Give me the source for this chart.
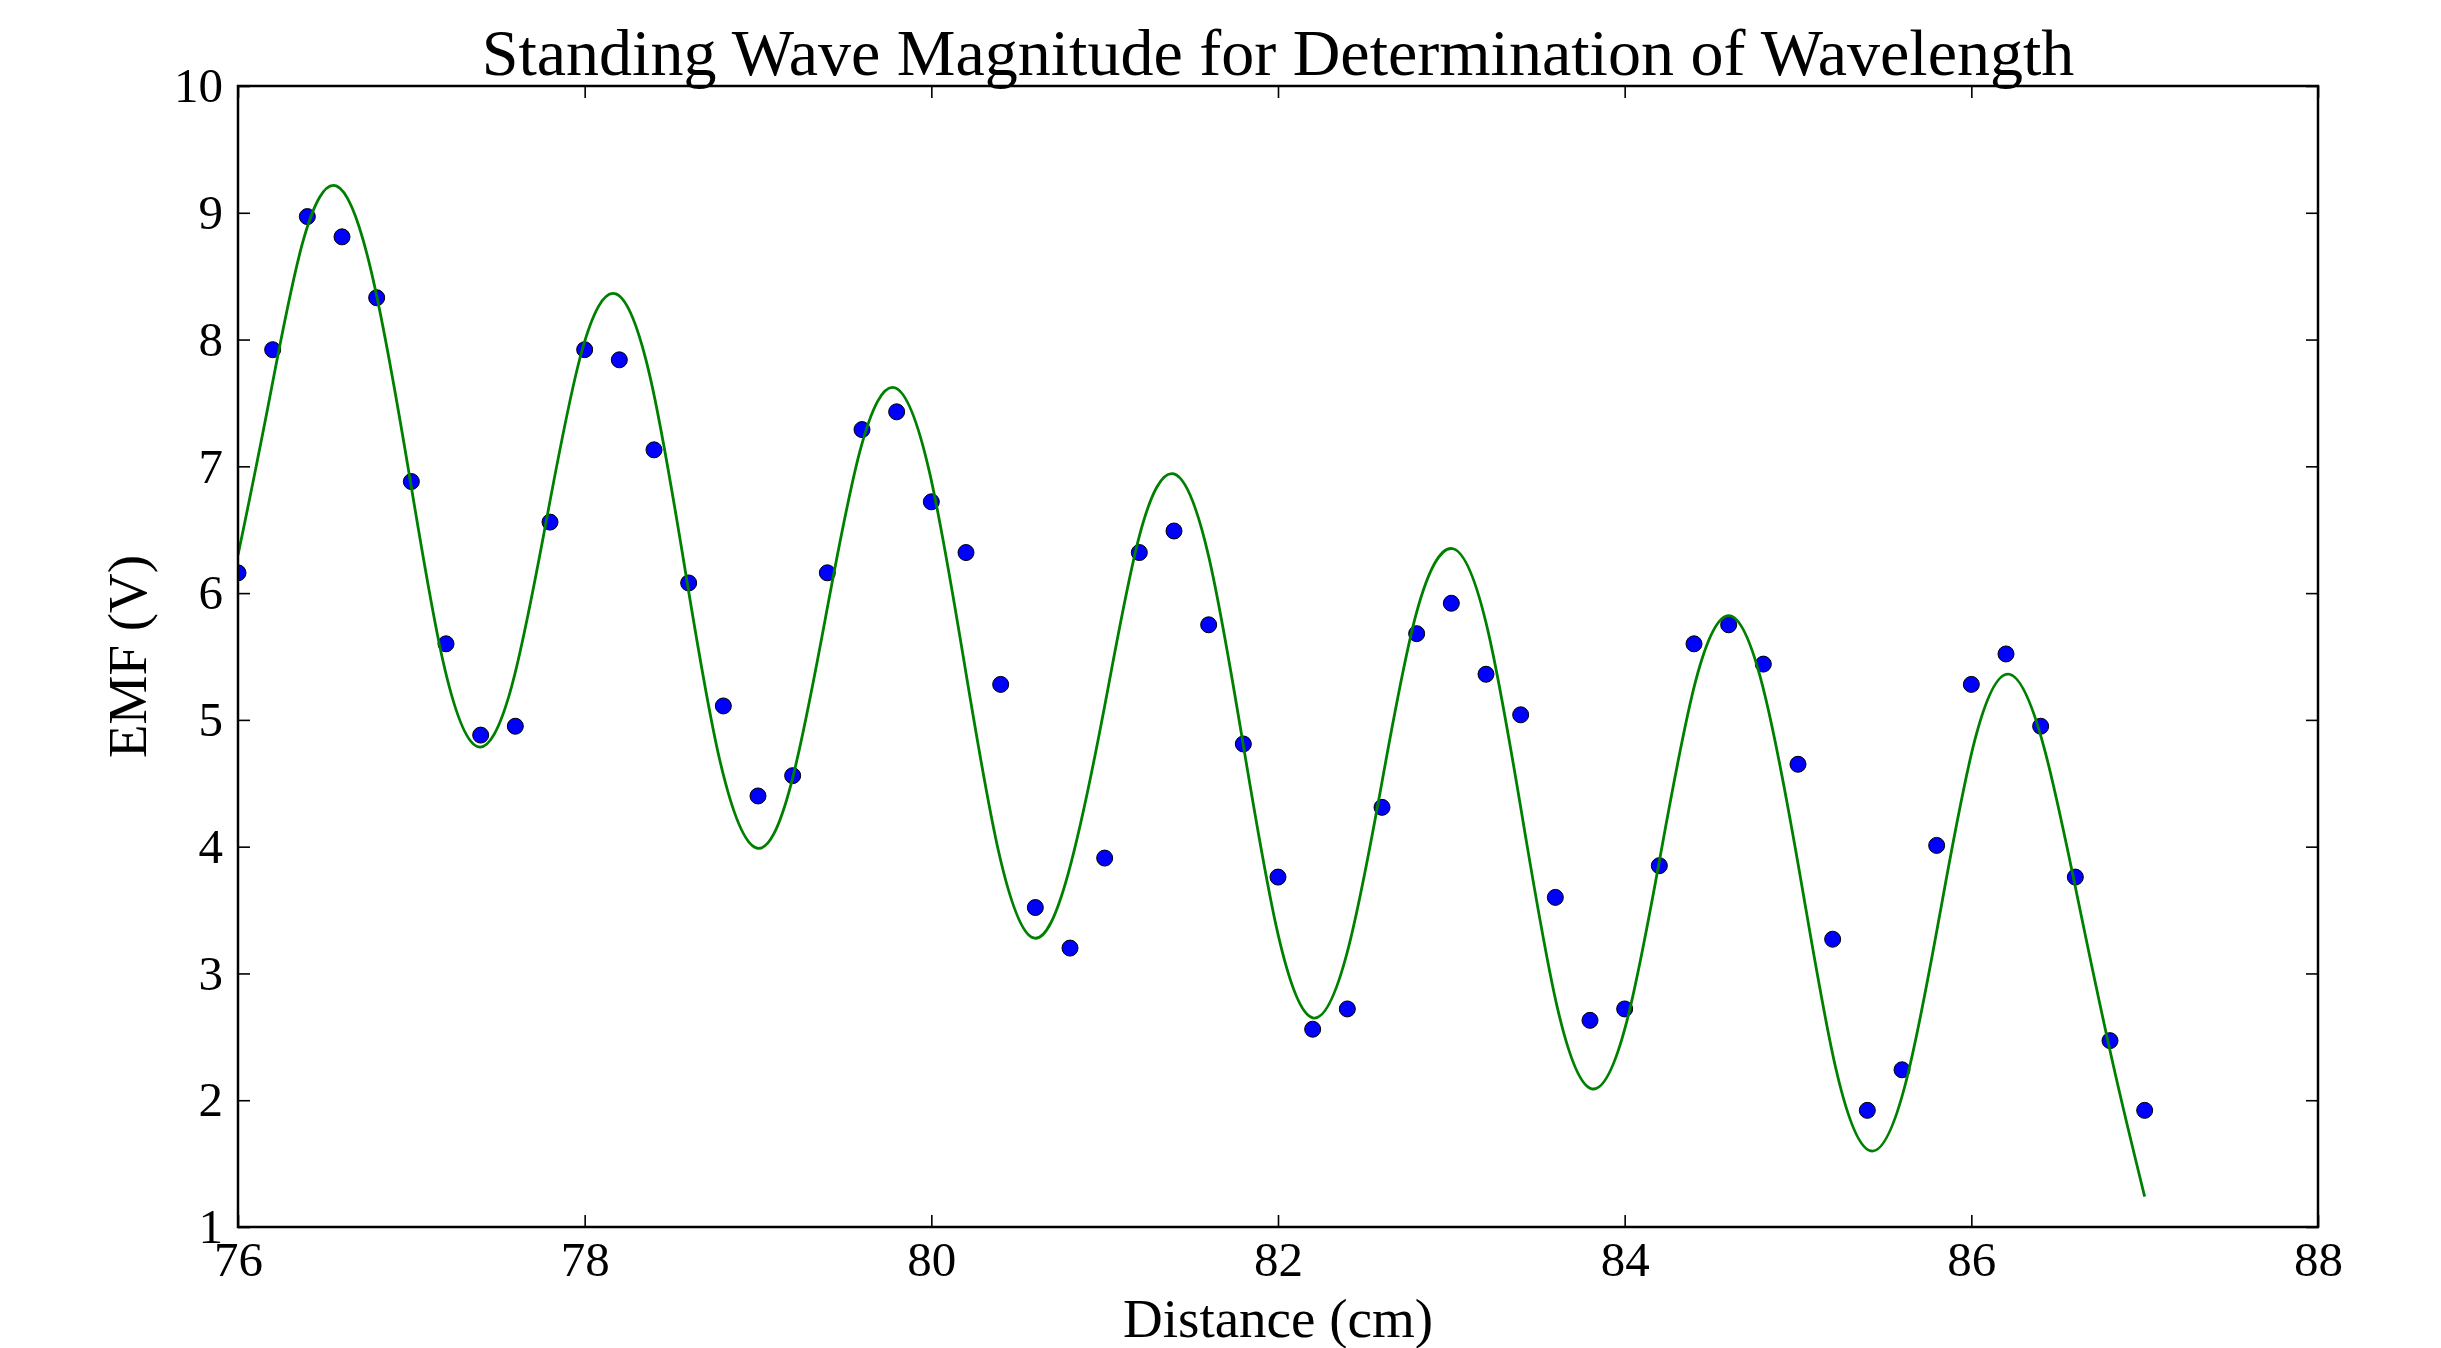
<!DOCTYPE html>
<html>
<head>
<meta charset="utf-8">
<script src="https://cdn.jsdelivr.net/npm/d3@7"></script>
<style>
  html, body { margin: 0; padding: 0; background: #fff; }
  svg { display: block; }
</style>
</head>
<body>
<svg width="2441" height="1348"></svg>
<script>
const { select, scaleLinear, axisBottom, axisLeft, axisTop, axisRight, line, curveNatural } = d3;

// measured positions (cm)
const distance = [
    76.0, 76.2, 76.4, 76.6, 76.8, 77.0, 77.2, 77.4, 77.6, 77.8,
    78.0, 78.2, 78.4, 78.6, 78.8, 79.0, 79.2, 79.4, 79.6, 79.8,
    80.0, 80.2, 80.4, 80.6, 80.8, 81.0, 81.2, 81.4, 81.6, 81.8,
    82.0, 82.2, 82.4, 82.6, 82.8, 83.0, 83.2, 83.4, 83.6, 83.8,
    84.0, 84.2, 84.4, 84.6, 84.8, 85.0, 85.2, 85.4, 85.6, 85.8,
    86.0, 86.2, 86.4, 86.6, 86.8, 87.0
];
// measured EMF (V)
const emf = [
    6.16, 7.92, 8.97, 8.81, 8.33, 6.88, 5.60, 4.88, 4.95, 6.56,
    7.92, 7.84, 7.13, 6.08, 5.11, 4.40, 4.56, 6.16, 7.29, 7.43,
    6.72, 6.32, 5.28, 3.52, 3.20, 3.91, 6.32, 6.49, 5.75, 4.81,
    3.76, 2.56, 2.72, 4.31, 5.68, 5.92, 5.36, 5.04, 3.60, 2.63,
    2.72, 3.85, 5.60, 5.75, 5.44, 4.65, 3.27, 1.92, 2.24, 4.01,
    5.28, 5.52, 4.95, 3.76, 2.47, 1.92
];

// fitted curve
const fitX = [
    76.00, 76.17, 76.37, 76.57, 76.77, 76.98, 77.18, 77.38, 77.58, 77.78,
    77.98, 78.18, 78.38, 78.58, 78.78, 78.99, 79.19, 79.39, 79.59, 79.79,
    79.99, 80.19, 80.39, 80.59, 80.79, 81.00, 81.20, 81.40, 81.60, 81.80,
    82.00, 82.20, 82.40, 82.60, 82.80, 83.01, 83.21, 83.41, 83.61, 83.81,
    84.01, 84.21, 84.41, 84.61, 84.81, 85.02, 85.22, 85.42, 85.62, 85.82,
    86.02, 86.22, 86.42, 86.62, 86.82, 87.00
];
const fitY = [
    6.30, 7.45, 8.75, 9.21, 8.53, 7.00, 5.48, 4.79, 5.27, 6.58,
    7.89, 8.36, 7.69, 6.18, 4.68, 3.99, 4.49, 5.81, 7.13, 7.62,
    6.95, 5.45, 3.95, 3.28, 3.79, 5.11, 6.45, 6.94, 6.29, 4.80,
    3.31, 2.65, 3.17, 4.51, 5.85, 6.35, 5.71, 4.23, 2.74, 2.09,
    2.61, 3.96, 5.31, 5.82, 5.19, 3.71, 2.24, 1.60, 2.13, 3.48,
    4.84, 5.36, 4.78, 3.55, 2.27, 1.24
];

const xTicks = [76, 78, 80, 82, 84, 86, 88];
const yTicks = [1, 2, 3, 4, 5, 6, 7, 8, 9, 10];

const titleText = 'Standing Wave Magnitude for Determination of Wavelength';
const xLabel = 'Distance (cm)';
const yLabel = 'EMF (V)';

const svg = select('svg');
const width = +svg.attr('width');
const height = +svg.attr('height');

const plot = { left: 238, right: 2318, top: 86, bottom: 1227 };
const serif = '"Liberation Serif", "Times New Roman", serif';

const xScale = scaleLinear().domain([76, 88]).range([plot.left, plot.right]);
const yScale = scaleLinear().domain([1, 10]).range([plot.bottom, plot.top]);

svg.append('rect')
    .attr('width', width)
    .attr('height', height)
    .attr('fill', '#fff');

svg.append('defs')
    .append('clipPath')
    .attr('id', 'plot-clip')
    .append('rect')
    .attr('x', plot.left)
    .attr('y', plot.top)
    .attr('width', plot.right - plot.left)
    .attr('height', plot.bottom - plot.top);

// inward ticks on all four sides
const styleAxis = (g) => {
    g.select('.domain').remove();
    g.attr('font-family', serif).attr('font-size', 49);
    g.selectAll('.tick line').attr('stroke', '#000').attr('stroke-width', 1.6);
    g.selectAll('.tick text').attr('fill', '#000');
};

svg.append('g')
    .attr('transform', `translate(0,${plot.bottom})`)
    .call(axisBottom(xScale).tickValues(xTicks).tickSizeInner(-12).tickSizeOuter(0).tickPadding(14))
    .call(styleAxis);

svg.append('g')
    .attr('transform', `translate(0,${plot.top})`)
    .call(axisTop(xScale).tickValues(xTicks).tickSizeInner(-12).tickSizeOuter(0).tickFormat(''))
    .call(styleAxis);

svg.append('g')
    .attr('transform', `translate(${plot.left},0)`)
    .call(axisLeft(yScale).tickValues(yTicks).tickSizeInner(-12).tickSizeOuter(0).tickPadding(15))
    .call(styleAxis);

svg.append('g')
    .attr('transform', `translate(${plot.right},0)`)
    .call(axisRight(yScale).tickValues(yTicks).tickSizeInner(-12).tickSizeOuter(0).tickFormat(''))
    .call(styleAxis);

// data points
const points = distance.map((d, i) => ({ x: d, y: emf[i] }));
svg.append('g')
    .attr('clip-path', 'url(#plot-clip)')
    .selectAll('circle')
    .data(points)
    .join('circle')
    .attr('cx', (d) => xScale(d.x))
    .attr('cy', (d) => yScale(d.y))
    .attr('r', 8)
    .attr('fill', '#0000ff')
    .attr('stroke', '#000')
    .attr('stroke-width', 1);

// fit curve
const fit = fitX.map((d, i) => ({ x: d, y: fitY[i] }));
const fitLine = line()
    .x((d) => xScale(d.x))
    .y((d) => yScale(d.y))
    .curve(curveNatural);

svg.append('path')
    .datum(fit)
    .attr('clip-path', 'url(#plot-clip)')
    .attr('d', fitLine)
    .attr('fill', 'none')
    .attr('stroke', '#008000')
    .attr('stroke-width', 2.8);

// frame
svg.append('rect')
    .attr('x', plot.left)
    .attr('y', plot.top)
    .attr('width', plot.right - plot.left)
    .attr('height', plot.bottom - plot.top)
    .attr('fill', 'none')
    .attr('stroke', '#000')
    .attr('stroke-width', 2.5);

// title and axis labels
svg.append('text')
    .attr('x', (plot.left + plot.right) / 2)
    .attr('y', 75)
    .attr('text-anchor', 'middle')
    .attr('font-family', serif)
    .attr('font-size', 66)
    .text(titleText);

svg.append('text')
    .attr('x', (plot.left + plot.right) / 2)
    .attr('y', 1337)
    .attr('text-anchor', 'middle')
    .attr('font-family', serif)
    .attr('font-size', 55)
    .text(xLabel);

svg.append('text')
    .attr('transform', `translate(146,${(plot.top + plot.bottom) / 2}) rotate(-90)`)
    .attr('text-anchor', 'middle')
    .attr('font-family', serif)
    .attr('font-size', 55)
    .text(yLabel);
</script>
</body>
</html>
